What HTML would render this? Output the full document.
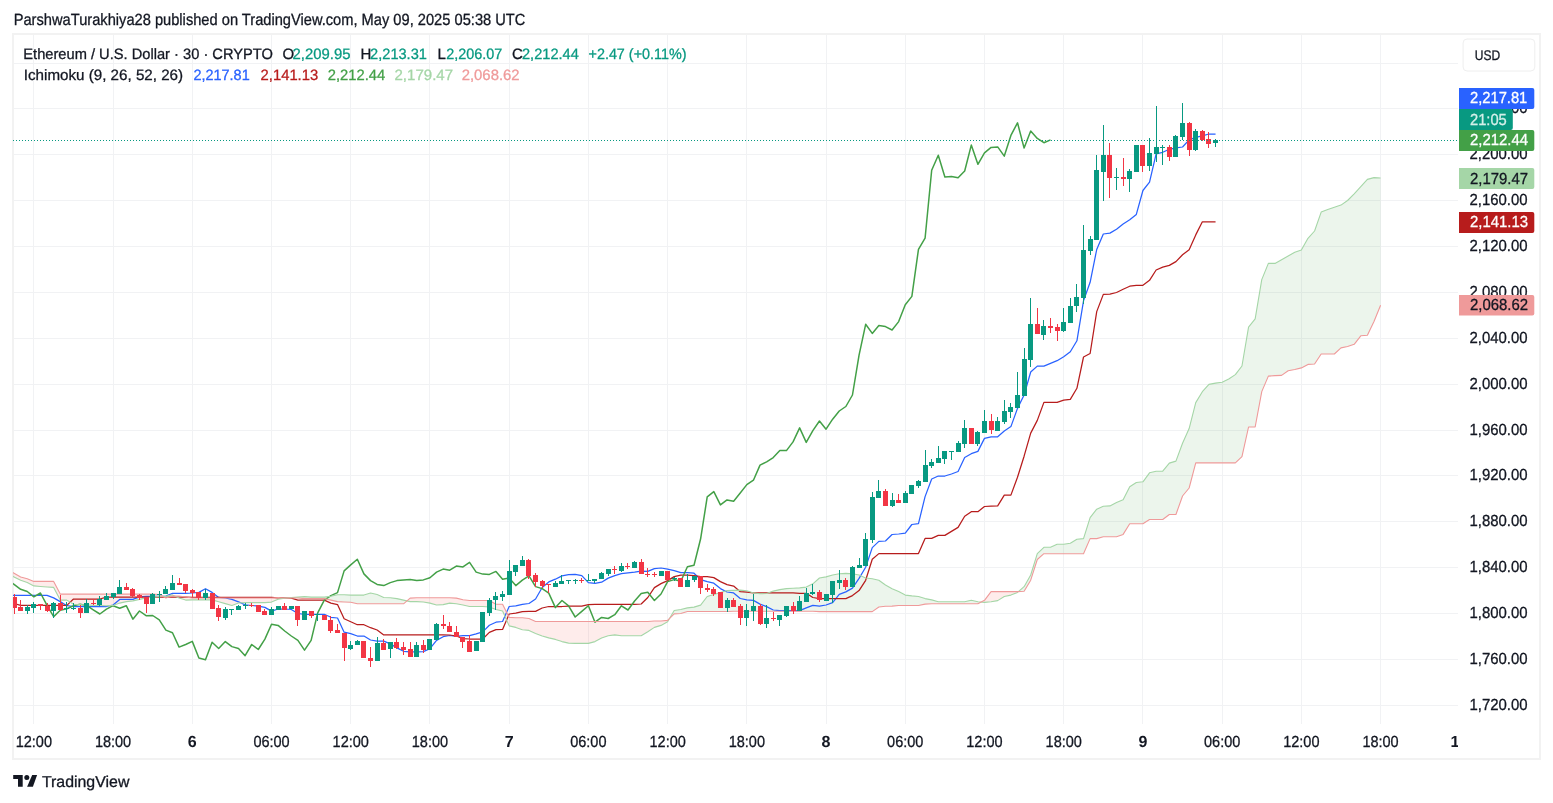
<!DOCTYPE html><html><head><meta charset="utf-8"><title>ETHUSD</title><style>
html,body{margin:0;padding:0;background:#fff;}body{width:1553px;height:803px;overflow:hidden;position:relative;}
svg{position:absolute;left:0;top:0;display:block;will-change:transform;}text{font-family:"Liberation Sans",sans-serif;text-rendering:geometricPrecision;}
</style></head><body>
<svg width="1553" height="803" viewBox="0 0 1553 803">
<defs><clipPath id="pc"><rect x="13" y="35" width="1445" height="689"/></clipPath></defs>
<rect x="13" y="34" width="1527" height="725" fill="none" stroke="#f2f2f2" stroke-width="2"/>
<path d="M33.5 35V724M113.5 35V724M192.5 35V724M271.5 35V724M350.5 35V724M429.5 35V724M509.5 35V724M588.5 35V724M667.5 35V724M746.5 35V724M826.5 35V724M905.5 35V724M984.5 35V724M1063.5 35V724M1142.5 35V724M1222.5 35V724M1301.5 35V724M1380.5 35V724M14 63.5H1458M14 108.5H1458M14 154.5H1458M14 200.5H1458M14 246.5H1458M14 292.5H1458M14 338.5H1458M14 384.5H1458M14 430.5H1458M14 475.5H1458M14 521.5H1458M14 567.5H1458M14 613.5H1458M14 659.5H1458M14 705.5H1458" stroke="#f1f2f4" stroke-width="1" fill="none"/>
<g clip-path="url(#pc)">
<path d="M162.9 596.4L165.9 596.4L165.9 598.0ZM165.9 596.4L172.5 594.9L172.5 596.0L165.9 598.0ZM172.5 594.9L174.9 596.0L172.5 596.0ZM285.8 598.0L291.3 597.5L291.3 598.0ZM291.3 597.5L297.9 597.1L297.9 598.0L291.3 598.0ZM297.9 597.1L304.5 596.6L304.5 598.6L297.9 598.0ZM304.5 596.6L311.1 597.1L311.1 598.6L304.5 598.6ZM311.1 597.1L317.7 597.1L317.7 598.6L311.1 598.6ZM317.7 597.1L324.3 597.1L324.3 598.6L317.7 598.6ZM324.3 597.1L330.9 596.3L330.9 600.1L324.3 598.6ZM330.9 596.3L337.5 594.8L337.5 601.6L330.9 600.1ZM337.5 594.8L344.1 594.8L344.1 602.0L337.5 601.6ZM344.1 594.8L350.7 595.1L350.7 602.3L344.1 602.0ZM350.7 595.1L357.3 595.1L357.3 603.8L350.7 602.3ZM357.3 595.1L363.9 595.1L363.9 603.8L357.3 603.8ZM363.9 595.1L370.5 593.0L370.5 603.8L363.9 603.8ZM370.5 593.0L377.1 594.5L377.1 603.8L370.5 603.8ZM377.1 594.5L383.7 597.5L383.7 603.8L377.1 603.8ZM383.7 597.5L390.3 597.8L390.3 603.8L383.7 603.8ZM390.3 597.8L396.9 598.6L396.9 603.8L390.3 603.8ZM396.9 598.6L403.5 600.1L403.5 603.8L396.9 603.8ZM403.5 600.1L406.9 600.9L403.5 603.8ZM669.5 618.5L674.2 610.5L674.2 613.9ZM674.2 610.5L680.8 609.5L680.8 613.5L674.2 613.9ZM680.8 609.5L687.4 607.9L687.4 611.5L680.8 613.5ZM687.4 607.9L694.0 607.1L694.0 611.5L687.4 611.5ZM694.0 607.1L700.6 605.1L700.6 611.5L694.0 611.5ZM700.6 605.1L707.2 596.5L707.2 611.5L700.6 611.5ZM707.2 596.5L713.8 594.5L713.8 611.5L707.2 611.5ZM713.8 594.5L720.4 592.5L720.4 611.5L713.8 611.5ZM720.4 592.5L727.0 590.6L727.0 611.5L720.4 611.5ZM727.0 590.6L733.6 590.4L733.6 611.2L727.0 611.5ZM733.6 590.4L740.2 590.1L740.2 611.2L733.6 611.2ZM740.2 590.1L746.8 590.8L746.8 611.2L740.2 611.2ZM746.8 590.8L753.4 592.9L753.4 611.2L746.8 611.2ZM753.4 592.9L760.0 593.8L760.0 611.2L753.4 611.2ZM760.0 593.8L766.6 593.5L766.6 611.2L760.0 611.2ZM766.6 593.5L773.2 591.1L773.2 611.2L766.6 611.2ZM773.2 591.1L779.8 589.6L779.8 611.2L773.2 611.2ZM779.8 589.6L786.4 588.6L786.4 611.2L779.8 611.2ZM786.4 588.6L793.0 588.3L793.0 611.2L786.4 611.2ZM793.0 588.3L799.6 587.9L799.6 611.2L793.0 611.2ZM799.6 587.9L806.2 587.1L806.2 611.2L799.6 611.2ZM806.2 587.1L812.8 583.8L812.8 611.2L806.2 611.2ZM812.8 583.8L819.4 578.0L819.4 611.6L812.8 611.2ZM819.4 578.0L826.0 576.9L826.0 611.6L819.4 611.6ZM826.0 576.9L832.7 575.0L832.7 611.6L826.0 611.6ZM832.7 575.0L839.3 573.7L839.3 611.6L832.7 611.6ZM839.3 573.7L845.9 573.4L845.9 611.6L839.3 611.6ZM845.9 573.4L852.5 573.7L852.5 611.6L845.9 611.6ZM852.5 573.7L859.1 575.0L859.1 611.6L852.5 611.6ZM859.1 575.0L865.7 578.0L865.7 611.6L859.1 611.6ZM865.7 578.0L872.3 578.8L872.3 611.6L865.7 611.6ZM872.3 578.8L878.9 580.3L878.9 607.0L872.3 611.6ZM878.9 580.3L885.5 585.0L885.5 606.3L878.9 607.0ZM885.5 585.0L892.1 588.7L892.1 606.1L885.5 606.3ZM892.1 588.7L898.7 591.6L898.7 605.5L892.1 606.1ZM898.7 591.6L905.3 595.1L905.3 605.5L898.7 605.5ZM905.3 595.1L911.9 595.9L911.9 605.5L905.3 605.5ZM911.9 595.9L918.5 596.5L918.5 605.5L911.9 605.5ZM918.5 596.5L925.1 598.6L925.1 604.1L918.5 605.5ZM925.1 598.6L931.7 599.9L931.7 603.8L925.1 604.1ZM931.7 599.9L938.3 601.7L938.3 603.8L931.7 603.8ZM938.3 601.7L944.9 601.7L944.9 603.8L938.3 603.8ZM944.9 601.7L951.5 601.7L951.5 603.8L944.9 603.8ZM951.5 601.7L958.1 601.7L958.1 603.8L951.5 603.8ZM958.1 601.7L964.7 601.7L964.7 603.8L958.1 603.8ZM964.7 601.7L971.3 600.3L971.3 603.8L964.7 603.8ZM971.3 600.3L977.9 601.7L977.9 603.8L971.3 603.8ZM977.9 601.7L981.2 602.0L977.9 603.8ZM1018.5 591.5L1024.1 586.7L1024.1 591.2ZM1024.1 586.7L1030.7 575.0L1030.7 580.2L1024.1 591.2ZM1030.7 575.0L1037.3 553.7L1037.3 559.5L1030.7 580.2ZM1037.3 553.7L1043.9 547.3L1043.9 553.7L1037.3 559.5ZM1043.9 547.3L1050.5 547.3L1050.5 553.7L1043.9 553.7ZM1050.5 547.3L1057.1 544.3L1057.1 553.7L1050.5 553.7ZM1057.1 544.3L1063.7 544.3L1063.7 553.7L1057.1 553.7ZM1063.7 544.3L1070.3 543.2L1070.3 553.7L1063.7 553.7ZM1070.3 543.2L1076.9 539.2L1076.9 553.7L1070.3 553.7ZM1076.9 539.2L1083.5 538.6L1083.5 553.7L1076.9 553.7ZM1083.5 538.6L1090.1 517.6L1090.1 538.6L1083.5 553.7ZM1090.1 517.6L1096.7 509.2L1096.7 538.6L1090.1 538.6ZM1096.7 509.2L1103.3 506.2L1103.3 536.8L1096.7 538.6ZM1103.3 506.2L1109.9 505.9L1109.9 536.8L1103.3 536.8ZM1109.9 505.9L1116.5 502.6L1116.5 536.8L1109.9 536.8ZM1116.5 502.6L1123.1 499.7L1123.1 534.4L1116.5 536.8ZM1123.1 499.7L1129.7 486.8L1129.7 523.7L1123.1 534.4ZM1129.7 486.8L1136.3 482.5L1136.3 523.7L1129.7 523.7ZM1136.3 482.5L1142.9 481.8L1142.9 523.7L1136.3 523.7ZM1142.9 481.8L1149.5 472.8L1149.5 519.5L1142.9 523.7ZM1149.5 472.8L1156.1 471.2L1156.1 519.5L1149.5 519.5ZM1156.1 471.2L1162.7 471.2L1162.7 519.5L1156.1 519.5ZM1162.7 471.2L1169.3 463.1L1169.3 514.5L1162.7 519.5ZM1169.3 463.1L1175.9 461.1L1175.9 514.5L1169.3 514.5ZM1175.9 461.1L1182.5 443.2L1182.5 496.0L1175.9 514.5ZM1182.5 443.2L1189.1 428.6L1189.1 488.0L1182.5 496.0ZM1189.1 428.6L1195.7 402.6L1195.7 462.9L1189.1 488.0ZM1195.7 402.6L1202.3 391.7L1202.3 462.9L1195.7 462.9ZM1202.3 391.7L1208.9 384.4L1208.9 462.9L1202.3 462.9ZM1208.9 384.4L1215.5 383.1L1215.5 462.9L1208.9 462.9ZM1215.5 383.1L1222.2 382.2L1222.2 462.9L1215.5 462.9ZM1222.2 382.2L1228.8 379.0L1228.8 462.9L1222.2 462.9ZM1228.8 379.0L1235.4 374.6L1235.4 462.9L1228.8 462.9ZM1235.4 374.6L1242.0 366.0L1242.0 456.7L1235.4 462.9ZM1242.0 366.0L1248.6 327.2L1248.6 427.0L1242.0 456.7ZM1248.6 327.2L1255.2 318.8L1255.2 427.0L1248.6 427.0ZM1255.2 318.8L1261.8 279.6L1261.8 391.6L1255.2 427.0ZM1261.8 279.6L1268.4 263.4L1268.4 376.1L1261.8 391.6ZM1268.4 263.4L1275.0 263.4L1275.0 375.6L1268.4 376.1ZM1275.0 263.4L1281.6 259.7L1281.6 375.4L1275.0 375.6ZM1281.6 259.7L1288.2 256.0L1288.2 370.8L1281.6 375.4ZM1288.2 256.0L1294.8 252.2L1294.8 369.5L1288.2 370.8ZM1294.8 252.2L1301.4 250.1L1301.4 367.9L1294.8 369.5ZM1301.4 250.1L1308.0 238.3L1308.0 364.4L1301.4 367.9ZM1308.0 238.3L1314.6 231.0L1314.6 364.0L1308.0 364.4ZM1314.6 231.0L1321.2 212.1L1321.2 354.0L1314.6 364.0ZM1321.2 212.1L1327.8 209.5L1327.8 354.0L1321.2 354.0ZM1327.8 209.5L1334.4 207.2L1334.4 354.0L1327.8 354.0ZM1334.4 207.2L1341.0 205.1L1341.0 347.9L1334.4 354.0ZM1341.0 205.1L1347.6 200.5L1347.6 346.5L1341.0 347.9ZM1347.6 200.5L1354.2 193.9L1354.2 344.3L1347.6 346.5ZM1354.2 193.9L1360.8 186.7L1360.8 335.8L1354.2 344.3ZM1360.8 186.7L1367.4 179.4L1367.4 335.2L1360.8 335.8ZM1367.4 179.4L1374.0 177.6L1374.0 321.5L1367.4 335.2ZM1374.0 177.6L1380.6 178.0L1380.6 305.2L1374.0 321.5Z" fill="#43a047" fill-opacity="0.1"/>
<path d="M7.4 573.7L14.0 577.0L14.0 573.2L7.4 569.4ZM14.0 577.0L20.6 580.3L20.6 577.0L14.0 573.2ZM20.6 580.3L27.2 582.6L27.2 578.8L20.6 577.0ZM27.2 582.6L33.8 585.9L33.8 581.4L27.2 578.8ZM33.8 585.9L40.4 586.5L40.4 581.4L33.8 581.4ZM40.4 586.5L47.0 587.0L47.0 581.4L40.4 581.4ZM47.0 587.0L53.7 587.4L53.7 581.4L47.0 581.4ZM53.7 587.4L60.3 600.1L60.3 594.1L53.7 581.4ZM60.3 600.1L66.9 600.1L66.9 594.1L60.3 594.1ZM66.9 600.1L73.5 604.2L73.5 594.1L66.9 594.1ZM73.5 604.2L80.1 604.6L80.1 594.1L73.5 594.1ZM80.1 604.6L86.7 605.0L86.7 594.1L80.1 594.1ZM86.7 605.0L93.3 605.4L93.3 594.1L86.7 594.1ZM93.3 605.4L99.9 605.5L99.9 594.1L93.3 594.1ZM99.9 605.5L106.5 605.7L106.5 594.1L99.9 594.1ZM106.5 605.7L113.1 605.4L113.1 594.1L106.5 594.1ZM113.1 605.4L119.7 603.1L119.7 594.1L113.1 594.1ZM119.7 603.1L126.3 601.6L126.3 594.1L119.7 594.1ZM126.3 601.6L132.9 600.9L132.9 594.1L126.3 594.1ZM132.9 600.9L139.5 599.4L139.5 594.1L132.9 594.1ZM139.5 599.4L146.1 597.9L146.1 594.1L139.5 594.1ZM146.1 597.9L152.7 597.1L152.7 594.1L146.1 594.1ZM152.7 597.1L159.3 596.4L159.3 594.5L152.7 594.1ZM159.3 596.4L162.9 596.4L159.3 594.5ZM174.9 596.0L179.1 597.9L179.1 596.0ZM179.1 597.9L185.7 600.1L185.7 597.0L179.1 596.0ZM185.7 600.1L192.3 599.9L192.3 598.0L185.7 597.0ZM192.3 599.9L198.9 599.9L198.9 598.0L192.3 598.0ZM198.9 599.9L205.5 599.9L205.5 598.0L198.9 598.0ZM205.5 599.9L212.1 599.9L212.1 598.0L205.5 598.0ZM212.1 599.9L218.7 601.8L218.7 598.0L212.1 598.0ZM218.7 601.8L225.3 603.6L225.3 598.0L218.7 598.0ZM225.3 603.6L231.9 605.5L231.9 598.0L225.3 598.0ZM231.9 605.5L238.5 603.0L238.5 598.0L231.9 598.0ZM238.5 603.0L245.1 602.6L245.1 598.0L238.5 598.0ZM245.1 602.6L251.7 602.6L251.7 598.0L245.1 598.0ZM251.7 602.6L258.3 602.6L258.3 598.0L251.7 598.0ZM258.3 602.6L264.9 602.6L264.9 598.0L258.3 598.0ZM264.9 602.6L271.5 602.1L271.5 598.0L264.9 598.0ZM271.5 602.1L278.1 599.3L278.1 597.5L271.5 598.0ZM278.1 599.3L284.7 598.1L284.7 598.0L278.1 597.5ZM284.7 598.1L285.8 598.0L284.7 598.0ZM406.9 600.9L410.1 601.6L410.1 598.1ZM410.1 601.6L416.7 601.6L416.7 597.8L410.1 598.1ZM416.7 601.6L423.3 602.0L423.3 597.8L416.7 597.8ZM423.3 602.0L429.9 603.1L429.9 597.8L423.3 597.8ZM429.9 603.1L436.5 605.0L436.5 597.8L429.9 597.8ZM436.5 605.0L443.2 604.6L443.2 597.8L436.5 597.8ZM443.2 604.6L449.8 603.1L449.8 597.8L443.2 597.8ZM449.8 603.1L456.4 603.8L456.4 598.1L449.8 597.8ZM456.4 603.8L463.0 605.0L463.0 599.8L456.4 598.1ZM463.0 605.0L469.6 606.5L469.6 600.5L463.0 599.8ZM469.6 606.5L476.2 606.5L476.2 600.5L469.6 600.5ZM476.2 606.5L482.8 606.5L482.8 600.5L476.2 600.5ZM482.8 606.5L489.4 607.0L489.4 600.5L482.8 600.5ZM489.4 607.0L496.0 609.5L496.0 604.3L489.4 600.5ZM496.0 609.5L502.6 611.0L502.6 604.3L496.0 604.3ZM502.6 611.0L509.2 625.9L509.2 617.4L502.6 604.3ZM509.2 625.9L515.8 627.4L515.8 617.7L509.2 617.4ZM515.8 627.4L522.4 629.7L522.4 617.7L515.8 617.7ZM522.4 629.7L529.0 630.4L529.0 618.5L522.4 617.7ZM529.0 630.4L535.6 633.4L535.6 621.5L529.0 618.5ZM535.6 633.4L542.2 636.0L542.2 621.5L535.6 621.5ZM542.2 636.0L548.8 637.9L548.8 621.5L542.2 621.5ZM548.8 637.9L555.4 639.4L555.4 621.5L548.8 621.5ZM555.4 639.4L562.0 641.6L562.0 621.5L555.4 621.5ZM562.0 641.6L568.6 643.1L568.6 621.5L562.0 621.5ZM568.6 643.1L575.2 643.4L575.2 621.5L568.6 621.5ZM575.2 643.4L581.8 643.4L581.8 621.5L575.2 621.5ZM581.8 643.4L588.4 643.4L588.4 621.5L581.8 621.5ZM588.4 643.4L595.0 641.6L595.0 621.5L588.4 621.5ZM595.0 641.6L601.6 637.9L601.6 621.5L595.0 621.5ZM601.6 637.9L608.2 635.7L608.2 621.5L601.6 621.5ZM608.2 635.7L614.8 634.9L614.8 621.5L608.2 621.5ZM614.8 634.9L621.4 635.7L621.4 621.5L614.8 621.5ZM621.4 635.7L628.0 635.7L628.0 621.5L621.4 621.5ZM628.0 635.7L634.6 635.7L634.6 621.5L628.0 621.5ZM634.6 635.7L641.2 635.7L641.2 621.5L634.6 621.5ZM641.2 635.7L647.8 631.8L647.8 621.5L641.2 621.5ZM647.8 631.8L654.4 627.4L654.4 621.0L647.8 621.5ZM654.4 627.4L661.0 625.4L661.0 621.0L654.4 621.0ZM661.0 625.4L667.6 621.8L667.6 620.4L661.0 621.0ZM667.6 621.8L669.5 618.5L667.6 620.4ZM981.2 602.0L984.5 602.4L984.5 600.3ZM984.5 602.4L991.1 601.7L991.1 591.6L984.5 600.3ZM991.1 601.7L997.7 600.6L997.7 591.6L991.1 591.6ZM997.7 600.6L1004.3 596.5L1004.3 591.6L997.7 591.6ZM1004.3 596.5L1010.9 595.1L1010.9 591.6L1004.3 591.6ZM1010.9 595.1L1017.5 592.4L1017.5 591.6L1010.9 591.6ZM1017.5 592.4L1018.5 591.5L1017.5 591.6Z" fill="#f44336" fill-opacity="0.1"/>
<path d="M7.44 595.3L14.04 595.3L20.64 595.3L27.24 595.3L33.84 595.3L40.45 595.3L47.05 595.3L53.65 597.9L60.25 601.6L66.85 605.7L73.46 606.5L80.06 606.5L86.66 606.5L93.26 606.5L99.86 606.5L106.46 606.5L113.07 605.0L119.67 599.4L126.27 599.4L132.87 599.4L139.47 596.8L146.07 596.4L152.68 596.4L159.28 596.4L165.88 596.0L172.48 593.4L179.08 593.4L185.68 593.4L192.29 593.0L198.89 592.4L205.49 588.7L212.09 592.4L218.69 597.4L225.29 598.0L231.90 599.3L238.50 601.8L245.10 604.9L251.70 605.5L258.30 606.1L264.90 607.4L271.51 611.1L278.11 609.0L284.71 609.0L291.31 609.5L297.91 613.5L304.51 614.3L311.12 614.3L317.72 614.3L324.32 614.3L330.92 617.3L337.52 618.0L344.12 632.2L350.73 633.7L357.33 636.0L363.93 636.0L370.53 640.0L377.13 641.2L383.74 641.2L390.34 643.9L396.94 647.9L403.54 651.3L410.14 651.9L416.74 651.9L423.35 651.6L429.95 648.7L436.55 640.4L443.15 636.7L449.75 635.5L456.35 636.4L462.96 635.7L469.56 635.7L476.16 633.9L482.76 631.9L489.36 625.2L495.96 622.2L502.57 621.5L509.17 606.5L515.77 605.8L522.37 604.3L528.97 603.5L535.57 599.0L542.18 587.5L548.78 581.9L555.38 579.2L561.98 575.9L568.58 574.7L575.18 574.4L581.79 575.6L588.39 582.6L594.99 583.3L601.59 582.2L608.19 578.1L614.79 575.6L621.40 573.6L628.00 572.9L634.60 572.1L641.20 571.1L647.80 571.4L654.40 568.6L661.01 568.0L667.61 569.2L674.21 570.6L680.81 572.6L687.41 572.6L694.01 573.2L700.62 579.6L707.22 581.6L713.82 583.2L720.42 588.6L727.02 592.0L733.63 592.9L740.23 598.5L746.83 599.8L753.43 600.4L760.03 604.1L766.63 606.6L773.24 610.0L779.84 610.7L786.44 610.7L793.04 610.7L799.64 610.7L806.24 607.9L812.85 605.4L819.45 606.1L826.05 605.0L832.65 602.7L839.25 594.3L845.85 591.9L852.46 588.1L859.06 578.4L865.66 567.2L872.26 547.6L878.86 541.4L885.46 541.0L892.07 534.5L898.67 534.0L905.27 533.2L911.87 524.5L918.47 523.6L925.07 496.6L931.68 479.0L938.28 476.0L944.88 476.0L951.48 474.0L958.08 471.5L964.68 457.5L971.29 453.7L977.89 451.4L984.49 438.4L991.09 436.8L997.69 436.8L1004.29 431.0L1010.90 426.6L1017.50 408.4L1024.10 395.0L1030.70 372.0L1037.30 366.1L1043.91 366.1L1050.51 363.3L1057.11 360.7L1063.71 356.7L1070.31 351.7L1076.91 340.8L1083.52 300.8L1090.12 282.3L1096.72 249.5L1103.32 234.0L1109.92 233.1L1116.52 229.2L1123.13 224.0L1129.73 219.7L1136.33 214.4L1142.93 190.5L1149.53 182.2L1156.13 153.8L1162.74 152.3L1169.34 149.3L1175.94 147.8L1182.54 147.0L1189.14 139.8L1195.74 137.3L1202.35 135.8L1208.95 134.0L1215.55 134.0" stroke="#2962ff" stroke-width="1.25" fill="none" stroke-linejoin="round"/>
<path d="M7.44 602.5L14.04 603.5L20.64 605.4L27.24 605.4L33.84 605.4L40.45 605.4L47.05 605.4L53.65 605.4L60.25 605.4L66.85 605.4L73.46 599.0L80.06 599.0L86.66 599.0L93.26 599.0L99.86 599.0L106.46 597.1L113.07 597.1L119.67 597.1L126.27 597.1L132.87 597.1L139.47 597.1L146.07 597.1L152.68 597.1L159.28 597.1L165.88 597.1L172.48 597.1L179.08 597.1L185.68 597.1L192.29 597.4L198.89 597.4L205.49 597.4L212.09 597.4L218.69 597.4L225.29 597.4L231.90 597.4L238.50 597.4L245.10 597.4L251.70 597.4L258.30 597.4L264.90 597.4L271.51 597.4L278.11 597.8L284.71 597.8L291.31 598.1L297.91 600.1L304.51 600.1L311.12 600.1L317.72 600.1L324.32 600.1L330.92 603.1L337.52 604.6L344.12 618.8L350.73 621.7L357.33 624.7L363.93 624.7L370.53 627.7L377.13 630.0L383.74 634.9L390.34 634.9L396.94 634.9L403.54 634.9L410.14 634.9L416.74 634.9L423.35 634.9L429.95 634.9L436.55 634.9L443.15 634.9L449.75 635.0L456.35 636.0L462.96 638.7L469.56 639.0L476.16 639.0L482.76 639.0L489.36 632.4L495.96 629.7L502.57 629.4L509.17 614.0L515.77 613.2L522.37 611.7L528.97 611.4L535.57 611.4L542.18 608.0L548.78 606.5L555.38 606.5L561.98 606.5L568.58 606.1L575.18 606.1L581.79 606.1L588.39 604.6L594.99 604.3L601.59 604.3L608.19 604.3L614.79 604.3L621.40 604.3L628.00 604.3L634.60 604.3L641.20 604.0L647.80 597.5L654.40 587.6L661.01 583.6L667.61 580.6L674.21 576.6L680.81 575.2L687.41 575.2L694.01 575.6L700.62 576.6L707.22 576.6L713.82 577.6L720.42 581.6L727.02 584.6L733.63 586.1L740.23 591.7L746.83 592.1L753.43 592.9L760.03 592.9L766.63 592.9L773.24 592.9L779.84 592.9L786.44 592.9L793.04 592.9L799.64 593.3L806.24 593.3L812.85 597.5L819.45 598.6L826.05 598.6L832.65 598.6L839.25 598.6L845.85 598.6L852.46 595.6L859.06 590.6L865.66 580.3L872.26 559.3L878.86 553.6L885.46 553.6L892.07 553.6L898.67 553.6L905.27 553.6L911.87 553.6L918.47 553.6L925.07 538.4L931.68 538.4L938.28 535.4L944.88 535.4L951.48 531.4L958.08 527.4L964.68 516.3L971.29 511.7L977.89 511.7L984.49 506.5L991.09 506.2L997.69 505.8L1004.29 495.1L1010.90 495.1L1017.50 477.2L1024.10 456.2L1030.70 433.1L1037.30 420.4L1043.91 402.4L1050.51 402.4L1057.11 402.4L1063.71 400.2L1070.31 399.4L1076.91 388.3L1083.52 357.0L1090.12 353.5L1096.72 311.6L1103.32 294.4L1109.92 294.2L1116.52 292.5L1123.13 289.2L1129.73 286.2L1136.33 285.3L1142.93 285.3L1149.53 280.3L1156.13 270.0L1162.74 267.2L1169.34 265.4L1175.94 261.6L1182.54 254.8L1189.14 249.8L1195.74 234.9L1202.35 221.8L1208.95 221.8L1215.55 221.8" stroke="#b71c1c" stroke-width="1.25" fill="none" stroke-linejoin="round"/>
<path d="M7.44 579.5L14.04 584.4L20.64 589.3L27.24 591.5L33.84 596.8L40.45 593.0L47.05 605.4L53.65 616.6L60.25 610.2L66.85 608.7L73.46 605.7L80.06 604.2L86.66 605.4L93.26 609.8L99.86 614.0L106.46 609.1L113.07 605.7L119.67 608.3L126.27 605.7L132.87 619.2L139.47 611.0L146.07 615.7L152.68 615.5L159.28 619.9L165.88 630.1L172.48 632.7L179.08 647.1L185.68 644.5L192.29 641.4L198.89 658.0L205.49 659.7L212.09 642.2L218.69 648.5L225.29 641.6L231.90 646.6L238.50 648.5L245.10 655.7L251.70 644.5L258.30 649.5L264.90 639.1L271.51 624.2L278.11 625.4L284.71 631.0L291.31 636.0L297.91 640.4L304.51 650.1L311.12 640.4L317.72 612.8L324.32 600.1L330.92 595.6L337.52 592.6L344.12 570.9L350.73 564.9L357.33 559.3L363.93 573.9L370.53 580.6L377.13 584.4L383.74 585.6L390.34 582.6L396.94 580.6L403.54 579.9L410.14 579.6L416.74 580.6L423.35 579.9L429.95 577.7L436.55 572.1L443.15 569.1L449.75 570.2L456.35 566.1L462.96 566.9L469.56 562.4L476.16 572.1L482.76 574.1L489.36 574.4L495.96 571.4L502.57 579.2L509.17 578.1L515.77 585.6L522.37 580.1L528.97 575.9L535.57 586.6L542.18 588.6L548.78 593.1L555.38 607.6L561.98 600.5L568.58 605.8L575.18 617.0L581.79 611.4L588.39 605.8L594.99 622.2L601.59 617.4L608.19 618.5L614.79 614.7L621.40 605.8L628.00 610.0L634.60 601.0L641.20 593.5L647.80 592.3L654.40 600.5L661.01 594.0L667.61 581.6L674.21 579.6L680.81 581.2L687.41 566.7L694.01 565.3L700.62 538.8L707.22 496.9L713.82 491.6L720.42 504.9L727.02 499.9L733.63 501.2L740.23 493.0L746.83 484.6L753.43 480.2L760.03 465.1L766.63 461.9L773.24 457.6L779.84 450.6L786.44 450.6L793.04 441.9L799.64 427.9L806.24 442.4L812.85 430.6L819.45 421.0L826.05 429.2L832.65 419.2L839.25 411.0L845.85 406.5L852.46 395.0L859.06 355.2L865.66 324.3L872.26 333.4L878.86 325.6L885.46 326.6L892.07 330.0L898.67 321.6L905.27 304.8L911.87 296.4L918.47 249.3L925.07 238.2L931.68 170.3L938.28 155.2L944.88 177.0L951.48 176.6L958.08 177.8L964.68 171.0L971.29 145.1L977.89 164.3L984.49 152.9L991.09 147.4L997.69 146.9L1004.29 156.1L1010.90 135.4L1017.50 122.8L1024.10 148.1L1030.70 131.1L1037.30 138.4L1043.91 142.7L1050.51 139.9" stroke="#43a047" stroke-width="1.5" fill="none" stroke-linejoin="round"/>
<path d="M7.44 573.7L14.04 577.0L20.64 580.3L27.24 582.6L33.84 585.9L40.45 586.5L47.05 587.0L53.65 587.4L60.25 600.1L66.85 600.1L73.46 604.2L80.06 604.6L86.66 605.0L93.26 605.4L99.86 605.5L106.46 605.7L113.07 605.4L119.67 603.1L126.27 601.6L132.87 600.9L139.47 599.4L146.07 597.9L152.68 597.1L159.28 596.4L165.88 596.4L172.48 594.9L179.08 597.9L185.68 600.1L192.29 599.9L198.89 599.9L205.49 599.9L212.09 599.9L218.69 601.8L225.29 603.6L231.90 605.5L238.50 603.0L245.10 602.6L251.70 602.6L258.30 602.6L264.90 602.6L271.51 602.1L278.11 599.3L284.71 598.1L291.31 597.5L297.91 597.1L304.51 596.6L311.12 597.1L317.72 597.1L324.32 597.1L330.92 596.3L337.52 594.8L344.12 594.8L350.73 595.1L357.33 595.1L363.93 595.1L370.53 593.0L377.13 594.5L383.74 597.5L390.34 597.8L396.94 598.6L403.54 600.1L410.14 601.6L416.74 601.6L423.35 602.0L429.95 603.1L436.55 605.0L443.15 604.6L449.75 603.1L456.35 603.8L462.96 605.0L469.56 606.5L476.16 606.5L482.76 606.5L489.36 607.0L495.96 609.5L502.57 611.0L509.17 625.9L515.77 627.4L522.37 629.7L528.97 630.4L535.57 633.4L542.18 636.0L548.78 637.9L555.38 639.4L561.98 641.6L568.58 643.1L575.18 643.4L581.79 643.4L588.39 643.4L594.99 641.6L601.59 637.9L608.19 635.7L614.79 634.9L621.40 635.7L628.00 635.7L634.60 635.7L641.20 635.7L647.80 631.8L654.40 627.4L661.01 625.4L667.61 621.8L674.21 610.5L680.81 609.5L687.41 607.9L694.01 607.1L700.62 605.1L707.22 596.5L713.82 594.5L720.42 592.5L727.02 590.6L733.63 590.4L740.23 590.1L746.83 590.8L753.43 592.9L760.03 593.8L766.63 593.5L773.24 591.1L779.84 589.6L786.44 588.6L793.04 588.3L799.64 587.9L806.24 587.1L812.85 583.8L819.45 578.0L826.05 576.9L832.65 575.0L839.25 573.7L845.85 573.4L852.46 573.7L859.06 575.0L865.66 578.0L872.26 578.8L878.86 580.3L885.46 585.0L892.07 588.7L898.67 591.6L905.27 595.1L911.87 595.9L918.47 596.5L925.07 598.6L931.68 599.9L938.28 601.7L944.88 601.7L951.48 601.7L958.08 601.7L964.68 601.7L971.29 600.3L977.89 601.7L984.49 602.4L991.09 601.7L997.69 600.6L1004.29 596.5L1010.90 595.1L1017.50 592.4L1024.10 586.7L1030.70 575.0L1037.30 553.7L1043.91 547.3L1050.51 547.3L1057.11 544.3L1063.71 544.3L1070.31 543.2L1076.91 539.2L1083.52 538.6L1090.12 517.6L1096.72 509.2L1103.32 506.2L1109.92 505.9L1116.52 502.6L1123.13 499.7L1129.73 486.8L1136.33 482.5L1142.93 481.8L1149.53 472.8L1156.13 471.2L1162.74 471.2L1169.34 463.1L1175.94 461.1L1182.54 443.2L1189.14 428.6L1195.74 402.6L1202.35 391.7L1208.95 384.4L1215.55 383.1L1222.15 382.2L1228.75 379.0L1235.35 374.6L1241.96 366.0L1248.56 327.2L1255.16 318.8L1261.76 279.6L1268.36 263.4L1274.96 263.4L1281.57 259.7L1288.17 256.0L1294.77 252.2L1301.37 250.1L1307.97 238.3L1314.57 231.0L1321.18 212.1L1327.78 209.5L1334.38 207.2L1340.98 205.1L1347.58 200.5L1354.18 193.9L1360.79 186.7L1367.39 179.4L1373.99 177.6L1380.59 178.0" stroke="#a5d6a7" stroke-width="1.1" fill="none" stroke-linejoin="round"/>
<path d="M7.44 569.4L14.04 573.2L20.64 577.0L27.24 578.8L33.84 581.4L40.45 581.4L47.05 581.4L53.65 581.4L60.25 594.1L66.85 594.1L73.46 594.1L80.06 594.1L86.66 594.1L93.26 594.1L99.86 594.1L106.46 594.1L113.07 594.1L119.67 594.1L126.27 594.1L132.87 594.1L139.47 594.1L146.07 594.1L152.68 594.1L159.28 594.5L165.88 598.0L172.48 596.0L179.08 596.0L185.68 597.0L192.29 598.0L198.89 598.0L205.49 598.0L212.09 598.0L218.69 598.0L225.29 598.0L231.90 598.0L238.50 598.0L245.10 598.0L251.70 598.0L258.30 598.0L264.90 598.0L271.51 598.0L278.11 597.5L284.71 598.0L291.31 598.0L297.91 598.0L304.51 598.6L311.12 598.6L317.72 598.6L324.32 598.6L330.92 600.1L337.52 601.6L344.12 602.0L350.73 602.3L357.33 603.8L363.93 603.8L370.53 603.8L377.13 603.8L383.74 603.8L390.34 603.8L396.94 603.8L403.54 603.8L410.14 598.1L416.74 597.8L423.35 597.8L429.95 597.8L436.55 597.8L443.15 597.8L449.75 597.8L456.35 598.1L462.96 599.8L469.56 600.5L476.16 600.5L482.76 600.5L489.36 600.5L495.96 604.3L502.57 604.3L509.17 617.4L515.77 617.7L522.37 617.7L528.97 618.5L535.57 621.5L542.18 621.5L548.78 621.5L555.38 621.5L561.98 621.5L568.58 621.5L575.18 621.5L581.79 621.5L588.39 621.5L594.99 621.5L601.59 621.5L608.19 621.5L614.79 621.5L621.40 621.5L628.00 621.5L634.60 621.5L641.20 621.5L647.80 621.5L654.40 621.0L661.01 621.0L667.61 620.4L674.21 613.9L680.81 613.5L687.41 611.5L694.01 611.5L700.62 611.5L707.22 611.5L713.82 611.5L720.42 611.5L727.02 611.5L733.63 611.2L740.23 611.2L746.83 611.2L753.43 611.2L760.03 611.2L766.63 611.2L773.24 611.2L779.84 611.2L786.44 611.2L793.04 611.2L799.64 611.2L806.24 611.2L812.85 611.2L819.45 611.6L826.05 611.6L832.65 611.6L839.25 611.6L845.85 611.6L852.46 611.6L859.06 611.6L865.66 611.6L872.26 611.6L878.86 607.0L885.46 606.3L892.07 606.1L898.67 605.5L905.27 605.5L911.87 605.5L918.47 605.5L925.07 604.1L931.68 603.8L938.28 603.8L944.88 603.8L951.48 603.8L958.08 603.8L964.68 603.8L971.29 603.8L977.89 603.8L984.49 600.3L991.09 591.6L997.69 591.6L1004.29 591.6L1010.90 591.6L1017.50 591.6L1024.10 591.2L1030.70 580.2L1037.30 559.5L1043.91 553.7L1050.51 553.7L1057.11 553.7L1063.71 553.7L1070.31 553.7L1076.91 553.7L1083.52 553.7L1090.12 538.6L1096.72 538.6L1103.32 536.8L1109.92 536.8L1116.52 536.8L1123.13 534.4L1129.73 523.7L1136.33 523.7L1142.93 523.7L1149.53 519.5L1156.13 519.5L1162.74 519.5L1169.34 514.5L1175.94 514.5L1182.54 496.0L1189.14 488.0L1195.74 462.9L1202.35 462.9L1208.95 462.9L1215.55 462.9L1222.15 462.9L1228.75 462.9L1235.35 462.9L1241.96 456.7L1248.56 427.0L1255.16 427.0L1261.76 391.6L1268.36 376.1L1274.96 375.6L1281.57 375.4L1288.17 370.8L1294.77 369.5L1301.37 367.9L1307.97 364.4L1314.57 364.0L1321.18 354.0L1327.78 354.0L1334.38 354.0L1340.98 347.9L1347.58 346.5L1354.18 344.3L1360.79 335.8L1367.39 335.2L1373.99 321.5L1380.59 305.2" stroke="#ef9a9a" stroke-width="1.1" fill="none" stroke-linejoin="round"/>
<path d="M27 605h1V614h-1ZM25 607h5V611h-5ZM33 602h1V613h-1ZM31 604h5V608h-5ZM53 602h1V618h-1ZM51 603h5V611h-5ZM66 602h1V613h-1ZM64 608h5V609h-5ZM73 603h1V610h-1ZM71 608h5V609h-5ZM86 599h1V613h-1ZM84 603h5V613h-5ZM99 596h1V606h-1ZM97 599h5V605h-5ZM106 593h1V600h-1ZM104 596h5V600h-5ZM113 593h1V599h-1ZM111 593h5V597h-5ZM119 580h1V594h-1ZM117 587h5V594h-5ZM152 593h1V604h-1ZM150 594h5V604h-5ZM159 591h1V602h-1ZM157 594h5V595h-5ZM165 586h1V594h-1ZM163 589h5V594h-5ZM172 575h1V590h-1ZM170 583h5V590h-5ZM205 589h1V600h-1ZM203 593h5V598h-5ZM225 607h1V620h-1ZM223 609h5V618h-5ZM231 609h1V615h-1ZM229 609h5V610h-5ZM238 605h1V610h-1ZM236 606h5V610h-5ZM245 603h1V609h-1ZM243 605h5V606h-5ZM271 607h1V615h-1ZM269 609h5V615h-5ZM278 606h1V610h-1ZM276 606h5V610h-5ZM291 606h1V609h-1ZM289 606h5V609h-5ZM304 611h1V620h-1ZM302 611h5V620h-5ZM317 613h1V621h-1ZM315 614h5V615h-5ZM350 641h1V650h-1ZM348 645h5V649h-5ZM357 640h1V645h-1ZM355 641h5V645h-5ZM377 637h1V661h-1ZM375 643h5V661h-5ZM390 642h1V658h-1ZM388 642h5V649h-5ZM416 642h1V657h-1ZM414 645h5V657h-5ZM429 639h1V650h-1ZM427 639h5V650h-5ZM436 623h1V640h-1ZM434 624h5V640h-5ZM476 641h1V651h-1ZM474 641h5V651h-5ZM482 612h1V642h-1ZM480 612h5V642h-5ZM489 598h1V616h-1ZM487 600h5V613h-5ZM495 592h1V610h-1ZM493 596h5V600h-5ZM502 591h1V601h-1ZM500 594h5V597h-5ZM509 560h1V595h-1ZM507 571h5V595h-5ZM515 565h1V576h-1ZM513 565h5V572h-5ZM522 556h1V566h-1ZM520 560h5V566h-5ZM555 581h1V587h-1ZM553 583h5V587h-5ZM561 575h1V584h-1ZM559 581h5V584h-5ZM568 580h1V584h-1ZM566 580h5V581h-5ZM575 579h1V584h-1ZM573 580h5V581h-5ZM588 574h1V581h-1ZM586 580h5V581h-5ZM594 579h1V583h-1ZM592 579h5V581h-5ZM601 572h1V579h-1ZM599 573h5V579h-5ZM608 569h1V576h-1ZM606 569h5V574h-5ZM621 563h1V572h-1ZM619 566h5V571h-5ZM634 561h1V568h-1ZM632 562h5V568h-5ZM661 571h1V576h-1ZM659 571h5V576h-5ZM674 577h1V581h-1ZM672 578h5V579h-5ZM687 574h1V587h-1ZM685 580h5V587h-5ZM694 576h1V582h-1ZM692 576h5V580h-5ZM727 598h1V612h-1ZM725 600h5V608h-5ZM746 604h1V626h-1ZM744 610h5V618h-5ZM753 594h1V621h-1ZM751 606h5V611h-5ZM766 605h1V628h-1ZM764 618h5V624h-5ZM779 615h1V626h-1ZM777 615h5V620h-5ZM786 606h1V617h-1ZM784 606h5V616h-5ZM799 596h1V611h-1ZM797 601h5V611h-5ZM806 588h1V602h-1ZM804 593h5V602h-5ZM812 584h1V595h-1ZM810 592h5V594h-5ZM826 594h1V601h-1ZM824 594h5V601h-5ZM832 581h1V603h-1ZM830 581h5V595h-5ZM839 570h1V589h-1ZM837 580h5V583h-5ZM852 566h1V587h-1ZM850 567h5V587h-5ZM859 558h1V568h-1ZM857 565h5V568h-5ZM865 533h1V566h-1ZM863 539h5V566h-5ZM872 492h1V543h-1ZM870 497h5V540h-5ZM878 480h1V498h-1ZM876 491h5V498h-5ZM892 493h1V507h-1ZM890 500h5V506h-5ZM905 491h1V503h-1ZM903 493h5V503h-5ZM911 485h1V494h-1ZM909 485h5V494h-5ZM918 480h1V488h-1ZM916 481h5V486h-5ZM925 450h1V482h-1ZM923 465h5V482h-5ZM931 459h1V468h-1ZM929 462h5V466h-5ZM938 446h1V463h-1ZM936 458h5V463h-5ZM944 451h1V464h-1ZM942 451h5V459h-5ZM951 451h1V460h-1ZM949 451h5V452h-5ZM958 441h1V452h-1ZM956 443h5V452h-5ZM964 420h1V448h-1ZM962 428h5V444h-5ZM977 431h1V446h-1ZM975 432h5V444h-5ZM984 410h1V433h-1ZM982 421h5V433h-5ZM997 417h1V431h-1ZM995 421h5V431h-5ZM1004 400h1V424h-1ZM1002 411h5V422h-5ZM1010 403h1V418h-1ZM1008 407h5V412h-5ZM1017 372h1V408h-1ZM1015 395h5V408h-5ZM1024 348h1V396h-1ZM1022 359h5V396h-5ZM1030 298h1V367h-1ZM1028 324h5V360h-5ZM1043 320h1V340h-1ZM1041 326h5V335h-5ZM1063 308h1V332h-1ZM1061 322h5V331h-5ZM1070 298h1V323h-1ZM1068 306h5V323h-5ZM1076 284h1V312h-1ZM1074 297h5V306h-5ZM1083 225h1V304h-1ZM1081 250h5V298h-5ZM1090 236h1V255h-1ZM1088 239h5V251h-5ZM1096 155h1V240h-1ZM1094 170h5V240h-5ZM1103 125h1V201h-1ZM1101 155h5V172h-5ZM1116 168h1V190h-1ZM1114 177h5V178h-5ZM1129 169h1V192h-1ZM1127 171h5V179h-5ZM1136 145h1V172h-1ZM1134 145h5V172h-5ZM1149 138h1V171h-1ZM1147 153h5V166h-5ZM1156 106h1V162h-1ZM1154 147h5V154h-5ZM1162 145h1V165h-1ZM1160 147h5V148h-5ZM1175 135h1V157h-1ZM1173 136h5V157h-5ZM1182 103h1V140h-1ZM1180 123h5V137h-5ZM1195 129h1V151h-1ZM1193 131h5V150h-5ZM1215 139h1V147h-1ZM1213 140h5V143h-5Z" fill="#089981"/>
<path d="M14 594h1V614h-1ZM12 597h5V608h-5ZM20 600h1V611h-1ZM18 607h5V611h-5ZM40 604h1V610h-1ZM38 604h5V606h-5ZM47 603h1V612h-1ZM45 606h5V611h-5ZM60 595h1V611h-1ZM58 603h5V610h-5ZM80 605h1V618h-1ZM78 608h5V613h-5ZM93 599h1V605h-1ZM91 603h5V604h-5ZM126 583h1V590h-1ZM124 587h5V590h-5ZM132 588h1V597h-1ZM130 589h5V596h-5ZM139 594h1V600h-1ZM137 595h5V598h-5ZM146 597h1V613h-1ZM144 597h5V604h-5ZM179 578h1V585h-1ZM177 583h5V585h-5ZM185 584h1V593h-1ZM183 584h5V591h-5ZM192 589h1V597h-1ZM190 590h5V593h-5ZM198 592h1V600h-1ZM196 592h5V598h-5ZM212 593h1V609h-1ZM210 593h5V609h-5ZM218 605h1V621h-1ZM216 608h5V617h-5ZM251 603h1V607h-1ZM249 605h5V606h-5ZM258 605h1V612h-1ZM256 605h5V612h-5ZM264 609h1V615h-1ZM262 611h5V615h-5ZM284 603h1V610h-1ZM282 606h5V610h-5ZM297 606h1V626h-1ZM295 606h5V620h-5ZM311 611h1V618h-1ZM309 611h5V616h-5ZM324 615h1V620h-1ZM322 615h5V620h-5ZM330 616h1V633h-1ZM328 620h5V631h-5ZM337 624h1V633h-1ZM335 630h5V633h-5ZM344 633h1V661h-1ZM342 633h5V648h-5ZM363 641h1V658h-1ZM361 641h5V658h-5ZM370 647h1V667h-1ZM368 658h5V661h-5ZM383 639h1V650h-1ZM381 643h5V650h-5ZM396 638h1V649h-1ZM394 642h5V648h-5ZM403 642h1V655h-1ZM401 647h5V650h-5ZM410 642h1V657h-1ZM408 649h5V657h-5ZM423 640h1V653h-1ZM421 645h5V650h-5ZM443 615h1V629h-1ZM441 624h5V626h-5ZM449 622h1V632h-1ZM447 626h5V632h-5ZM456 626h1V637h-1ZM454 632h5V637h-5ZM462 637h1V648h-1ZM460 637h5V642h-5ZM469 635h1V652h-1ZM467 641h5V652h-5ZM528 559h1V579h-1ZM526 560h5V576h-5ZM535 573h1V587h-1ZM533 575h5V582h-5ZM542 580h1V588h-1ZM540 581h5V586h-5ZM548 584h1V593h-1ZM546 584h5V585h-5ZM581 578h1V583h-1ZM579 580h5V581h-5ZM614 566h1V574h-1ZM612 569h5V570h-5ZM627 563h1V569h-1ZM625 566h5V567h-5ZM641 559h1V574h-1ZM639 562h5V574h-5ZM647 568h1V577h-1ZM645 574h5V575h-5ZM654 572h1V577h-1ZM652 574h5V575h-5ZM667 571h1V580h-1ZM665 571h5V580h-5ZM680 578h1V587h-1ZM678 578h5V587h-5ZM700 576h1V594h-1ZM698 576h5V588h-5ZM707 584h1V592h-1ZM705 588h5V590h-5ZM713 587h1V596h-1ZM711 589h5V594h-5ZM720 592h1V608h-1ZM718 592h5V608h-5ZM733 598h1V607h-1ZM731 600h5V607h-5ZM740 604h1V625h-1ZM738 606h5V618h-5ZM760 604h1V625h-1ZM758 606h5V624h-5ZM773 612h1V621h-1ZM771 618h5V619h-5ZM793 602h1V614h-1ZM791 606h5V611h-5ZM819 590h1V602h-1ZM817 592h5V600h-5ZM845 578h1V590h-1ZM843 580h5V587h-5ZM885 489h1V506h-1ZM883 491h5V506h-5ZM898 494h1V503h-1ZM896 500h5V503h-5ZM971 428h1V444h-1ZM969 428h5V444h-5ZM991 414h1V434h-1ZM989 421h5V430h-5ZM1037 308h1V334h-1ZM1035 324h5V334h-5ZM1050 318h1V333h-1ZM1048 326h5V328h-5ZM1057 324h1V341h-1ZM1055 327h5V331h-5ZM1109 143h1V198h-1ZM1107 155h5V178h-5ZM1123 158h1V186h-1ZM1121 177h5V179h-5ZM1142 145h1V172h-1ZM1140 145h5V166h-5ZM1169 145h1V161h-1ZM1167 147h5V157h-5ZM1189 122h1V156h-1ZM1187 123h5V150h-5ZM1202 130h1V141h-1ZM1200 131h5V140h-5ZM1208 132h1V148h-1ZM1206 139h5V144h-5Z" fill="#f23645"/>
<path d="M13 140.5H1458" stroke="#089981" stroke-width="1" stroke-dasharray="1 2"/>
</g>
<text x="13.7" y="24.8" font-size="16.2" fill="#131722" stroke="#131722" stroke-width="0.3" textLength="511.7" lengthAdjust="spacingAndGlyphs">ParshwaTurakhiya28 published on TradingView.com, May 09, 2025 05:38 UTC</text>
<text x="23.3" y="58.7" font-size="15" fill="#131722" stroke="#131722" stroke-width="0.3" textLength="249.6" lengthAdjust="spacingAndGlyphs">Ethereum / U.S. Dollar · 30 · CRYPTO</text>
<text x="282.5" y="58.7" font-size="15" fill="#131722" stroke="#131722" stroke-width="0.3">O</text>
<text x="292.6" y="58.7" font-size="15" fill="#089981" stroke="#089981" stroke-width="0.3" textLength="57.8" lengthAdjust="spacingAndGlyphs">2,209.95</text>
<text x="360.4" y="58.7" font-size="15" fill="#131722" stroke="#131722" stroke-width="0.3">H</text>
<text x="370.1" y="58.7" font-size="15" fill="#089981" stroke="#089981" stroke-width="0.3" textLength="56.8" lengthAdjust="spacingAndGlyphs">2,213.31</text>
<text x="437.4" y="58.7" font-size="15" fill="#131722" stroke="#131722" stroke-width="0.3">L</text>
<text x="446.2" y="58.7" font-size="15" fill="#089981" stroke="#089981" stroke-width="0.3" textLength="56.1" lengthAdjust="spacingAndGlyphs">2,206.07</text>
<text x="512.0" y="58.7" font-size="15" fill="#131722" stroke="#131722" stroke-width="0.3">C</text>
<text x="522.0" y="58.7" font-size="15" fill="#089981" stroke="#089981" stroke-width="0.3" textLength="56.8" lengthAdjust="spacingAndGlyphs">2,212.44</text>
<text x="588.5" y="58.7" font-size="15" fill="#089981" stroke="#089981" stroke-width="0.3" textLength="98.0" lengthAdjust="spacingAndGlyphs">+2.47 (+0.11%)</text>
<text x="23.8" y="79.5" font-size="15" fill="#131722" stroke="#131722" stroke-width="0.3" textLength="159.3" lengthAdjust="spacingAndGlyphs">Ichimoku (9, 26, 52, 26)</text>
<text x="193.4" y="79.5" font-size="15" fill="#2962ff" stroke="#2962ff" stroke-width="0.3" textLength="56.3" lengthAdjust="spacingAndGlyphs">2,217.81</text>
<text x="260.6" y="79.5" font-size="15" fill="#b71c1c" stroke="#b71c1c" stroke-width="0.3" textLength="57.6" lengthAdjust="spacingAndGlyphs">2,141.13</text>
<text x="327.8" y="79.5" font-size="15" fill="#43a047" stroke="#43a047" stroke-width="0.3" textLength="57.4" lengthAdjust="spacingAndGlyphs">2,212.44</text>
<text x="394.5" y="79.5" font-size="15" fill="#a5d6a7" stroke="#a5d6a7" stroke-width="0.3" textLength="58.6" lengthAdjust="spacingAndGlyphs">2,179.47</text>
<text x="461.7" y="79.5" font-size="15" fill="#ef9a9a" stroke="#ef9a9a" stroke-width="0.3" textLength="57.9" lengthAdjust="spacingAndGlyphs">2,068.62</text>
<text x="15.7" y="747.0" font-size="16" fill="#131722" stroke="#131722" stroke-width="0.3" textLength="36.3" lengthAdjust="spacingAndGlyphs">12:00</text>
<text x="94.9" y="747.0" font-size="16" fill="#131722" stroke="#131722" stroke-width="0.3" textLength="36.3" lengthAdjust="spacingAndGlyphs">18:00</text>
<text x="192.3" y="747.0" font-size="16" fill="#131722" font-weight="bold" text-anchor="middle">6</text>
<text x="253.4" y="747.0" font-size="16" fill="#131722" stroke="#131722" stroke-width="0.3" textLength="36.3" lengthAdjust="spacingAndGlyphs">06:00</text>
<text x="332.6" y="747.0" font-size="16" fill="#131722" stroke="#131722" stroke-width="0.3" textLength="36.3" lengthAdjust="spacingAndGlyphs">12:00</text>
<text x="411.8" y="747.0" font-size="16" fill="#131722" stroke="#131722" stroke-width="0.3" textLength="36.3" lengthAdjust="spacingAndGlyphs">18:00</text>
<text x="509.2" y="747.0" font-size="16" fill="#131722" font-weight="bold" text-anchor="middle">7</text>
<text x="570.2" y="747.0" font-size="16" fill="#131722" stroke="#131722" stroke-width="0.3" textLength="36.3" lengthAdjust="spacingAndGlyphs">06:00</text>
<text x="649.5" y="747.0" font-size="16" fill="#131722" stroke="#131722" stroke-width="0.3" textLength="36.3" lengthAdjust="spacingAndGlyphs">12:00</text>
<text x="728.7" y="747.0" font-size="16" fill="#131722" stroke="#131722" stroke-width="0.3" textLength="36.3" lengthAdjust="spacingAndGlyphs">18:00</text>
<text x="826.0" y="747.0" font-size="16" fill="#131722" font-weight="bold" text-anchor="middle">8</text>
<text x="887.1" y="747.0" font-size="16" fill="#131722" stroke="#131722" stroke-width="0.3" textLength="36.3" lengthAdjust="spacingAndGlyphs">06:00</text>
<text x="966.3" y="747.0" font-size="16" fill="#131722" stroke="#131722" stroke-width="0.3" textLength="36.3" lengthAdjust="spacingAndGlyphs">12:00</text>
<text x="1045.6" y="747.0" font-size="16" fill="#131722" stroke="#131722" stroke-width="0.3" textLength="36.3" lengthAdjust="spacingAndGlyphs">18:00</text>
<text x="1142.9" y="747.0" font-size="16" fill="#131722" font-weight="bold" text-anchor="middle">9</text>
<text x="1204.0" y="747.0" font-size="16" fill="#131722" stroke="#131722" stroke-width="0.3" textLength="36.3" lengthAdjust="spacingAndGlyphs">06:00</text>
<text x="1283.2" y="747.0" font-size="16" fill="#131722" stroke="#131722" stroke-width="0.3" textLength="36.3" lengthAdjust="spacingAndGlyphs">12:00</text>
<text x="1362.4" y="747.0" font-size="16" fill="#131722" stroke="#131722" stroke-width="0.3" textLength="36.3" lengthAdjust="spacingAndGlyphs">18:00</text>
<svg x="1440" y="730" width="18" height="25" overflow="hidden"><text x="19.3" y="17" font-size="16" font-weight="bold" fill="#131722" text-anchor="middle">10</text></svg>
<text x="1469.5" y="112.8" font-size="16" fill="#131722" stroke="#131722" stroke-width="0.3" textLength="58.1" lengthAdjust="spacingAndGlyphs">2,240.00</text>
<text x="1469.5" y="158.8" font-size="16" fill="#131722" stroke="#131722" stroke-width="0.3" textLength="58.1" lengthAdjust="spacingAndGlyphs">2,200.00</text>
<text x="1469.5" y="204.8" font-size="16" fill="#131722" stroke="#131722" stroke-width="0.3" textLength="58.1" lengthAdjust="spacingAndGlyphs">2,160.00</text>
<text x="1469.5" y="250.8" font-size="16" fill="#131722" stroke="#131722" stroke-width="0.3" textLength="58.1" lengthAdjust="spacingAndGlyphs">2,120.00</text>
<text x="1469.5" y="296.8" font-size="16" fill="#131722" stroke="#131722" stroke-width="0.3" textLength="58.1" lengthAdjust="spacingAndGlyphs">2,080.00</text>
<text x="1469.5" y="342.8" font-size="16" fill="#131722" stroke="#131722" stroke-width="0.3" textLength="58.1" lengthAdjust="spacingAndGlyphs">2,040.00</text>
<text x="1469.5" y="388.8" font-size="16" fill="#131722" stroke="#131722" stroke-width="0.3" textLength="58.1" lengthAdjust="spacingAndGlyphs">2,000.00</text>
<text x="1469.5" y="434.8" font-size="16" fill="#131722" stroke="#131722" stroke-width="0.3" textLength="58.1" lengthAdjust="spacingAndGlyphs">1,960.00</text>
<text x="1469.5" y="479.8" font-size="16" fill="#131722" stroke="#131722" stroke-width="0.3" textLength="58.1" lengthAdjust="spacingAndGlyphs">1,920.00</text>
<text x="1469.5" y="525.8" font-size="16" fill="#131722" stroke="#131722" stroke-width="0.3" textLength="58.1" lengthAdjust="spacingAndGlyphs">1,880.00</text>
<text x="1469.5" y="571.8" font-size="16" fill="#131722" stroke="#131722" stroke-width="0.3" textLength="58.1" lengthAdjust="spacingAndGlyphs">1,840.00</text>
<text x="1469.5" y="617.8" font-size="16" fill="#131722" stroke="#131722" stroke-width="0.3" textLength="58.1" lengthAdjust="spacingAndGlyphs">1,800.00</text>
<text x="1469.5" y="663.8" font-size="16" fill="#131722" stroke="#131722" stroke-width="0.3" textLength="58.1" lengthAdjust="spacingAndGlyphs">1,760.00</text>
<text x="1469.5" y="709.8" font-size="16" fill="#131722" stroke="#131722" stroke-width="0.3" textLength="58.1" lengthAdjust="spacingAndGlyphs">1,720.00</text>
<path d="M1459 88.0H1532.3a2 2 0 0 1 2 2V107.0a2 2 0 0 1 -2 2H1459Z" fill="#2962ff"/>
<text x="1470.0" y="103.2" font-size="16" fill="#ffffff" stroke="#ffffff" stroke-width="0.3" textLength="57.3" lengthAdjust="spacingAndGlyphs">2,217.81</text>
<path d="M1459 109.0H1510.8a2 2 0 0 1 2 2V128.0a2 2 0 0 1 -2 2H1459Z" fill="#089981"/>
<text x="1470.0" y="124.9" font-size="16" fill="#d4efe9" stroke="#d4efe9" stroke-width="0.3" textLength="36.8" lengthAdjust="spacingAndGlyphs">21:05</text>
<path d="M1459 130.0H1532.3a2 2 0 0 1 2 2V149.0a2 2 0 0 1 -2 2H1459Z" fill="#43a047"/>
<text x="1470.0" y="145.4" font-size="16" fill="#ffffff" stroke="#ffffff" stroke-width="0.3" textLength="58.0" lengthAdjust="spacingAndGlyphs">2,212.44</text>
<path d="M1459 168.0H1532.3a2 2 0 0 1 2 2V187.0a2 2 0 0 1 -2 2H1459Z" fill="#a5d6a7"/>
<text x="1470.0" y="183.6" font-size="16" fill="#131722" stroke="#131722" stroke-width="0.3" textLength="58.0" lengthAdjust="spacingAndGlyphs">2,179.47</text>
<path d="M1459 212.0H1532.3a2 2 0 0 1 2 2V231.0a2 2 0 0 1 -2 2H1459Z" fill="#b71c1c"/>
<text x="1470.0" y="227.0" font-size="16" fill="#ffffff" stroke="#ffffff" stroke-width="0.3" textLength="58.0" lengthAdjust="spacingAndGlyphs">2,141.13</text>
<path d="M1459 295.0H1532.3a2 2 0 0 1 2 2V313.5a2 2 0 0 1 -2 2H1459Z" fill="#ef9a9a"/>
<text x="1470.0" y="310.1" font-size="16" fill="#131722" stroke="#131722" stroke-width="0.3" textLength="58.0" lengthAdjust="spacingAndGlyphs">2,068.62</text>
<rect x="1463.1" y="39" width="71.7" height="32" rx="4" fill="#fff" stroke="#eeeeee" stroke-width="1"/>
<text x="1474.7" y="59.8" font-size="14" fill="#131722" stroke="#131722" stroke-width="0.3" textLength="25.4" lengthAdjust="spacingAndGlyphs">USD</text>
<g fill="#131722"><path d="M13.2 774.9H22.7V786.7H18V779.1H13.2Z"/><circle cx="26.8" cy="777.4" r="2.5"/><path d="M32.2 774.9H37.1L32.9 786.7H27.1Z"/></g>
<text x="41.9" y="786.7" font-size="15.8" fill="#131722" stroke="#131722" stroke-width="0.3" textLength="87.5" lengthAdjust="spacingAndGlyphs">TradingView</text>
</svg></body></html>
